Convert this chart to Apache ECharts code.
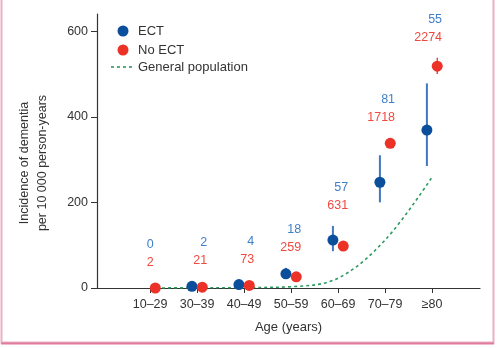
<!DOCTYPE html>
<html>
<head>
<meta charset="utf-8">
<script src="https://cdn.jsdelivr.net/npm/echarts@6/dist/echarts.min.js"></script>
<style>
html,body{margin:0;padding:0;background:#fff;}
#chart{width:497px;height:348px;}
</style>
</head>
<body>
<div id="chart"></div>
<script>
// ---- data ----
var categories = ['10–29', '30–39', '40–49', '50–59', '60–69', '70–79', '≥80'];
var ectCounts = [0, 2, 4, 18, 57, 81, 55];
var noEctCounts = [2, 21, 73, 259, 631, 1718, 2274];
var ectRate = [null, 4, 8, 33, 112, 247, 369];
var ectLow = [null, 1, 4, 21, 86, 200, 285];
var ectHigh = [null, 8, 12, 47, 145, 310, 478];
var noEctRate = [0, 2, 6, 26, 98, 338, 518];
var noEctLow = [0, 1, 4, 23, 93, 327, 500];
var noEctHigh = [1, 3, 8, 29, 103, 350, 538];
var generalPop = [0, 0.5, 1, 3, 23, 112, 259];
var yTicks = [0, 200, 400, 600];

// ---- style ----
var FONT = 'Liberation Sans';
var BLUE = '#0b4f9c', BLUE_BAR = '#3f78c0', BLUE_TXT = '#3f7fc8';
var RED = '#ec3226', RED_BAR = '#d8281e', RED_TXT = '#ef4a3f';
var GREEN = '#2f9a62';
var DX = 0.11;

var catIdx = categories.map(function (c, i) { return i; });

var ectPts = [], ectBars = [], redPts = [], redBars = [];
catIdx.forEach(function (i) {
  if (ectRate[i] != null) {
    ectPts.push([i - DX, ectRate[i]]);
    ectBars.push([i - DX, ectLow[i], ectHigh[i]]);
  }
  redPts.push([i + DX, noEctRate[i]]);
  redBars.push([i + DX, noEctLow[i], noEctHigh[i]]);
});
var genData = catIdx.map(function (i) { return [i, generalPop[i]]; });
var labelData = catIdx.map(function (i) {
  return [i, ectHigh[i] != null ? ectHigh[i] : 0, noEctHigh[i], ectRate[i] != null ? ectRate[i] : 0, noEctRate[i], ectCounts[i], noEctCounts[i]];
});

function errRender(color, width) {
  return function (params, api) {
    var p1 = api.coord([api.value(0), api.value(1)]);
    var p2 = api.coord([api.value(0), api.value(2)]);
    return { type: 'line', shape: { x1: p1[0], y1: p1[1], x2: p2[0], y2: p2[1] },
      style: { stroke: color, lineWidth: width } };
  };
}

var chart = echarts.init(document.getElementById('chart'), null, { renderer: 'canvas' });
chart.setOption({
  animation: false,
  backgroundColor: '#fff',
  textStyle: { fontFamily: FONT },
  grid: { left: 97, right: 17, top: 14, bottom: 60, containLabel: false },
  xAxis: {
    type: 'value', min: -1.13, max: 7.02,
    splitLine: { show: false },
    axisLine: { onZero: false, lineStyle: { color: '#333', width: 1.2 } },
    axisTick: { customValues: catIdx, length: 5, lineStyle: { color: '#333' } },
    axisLabel: { customValues: catIdx, margin: 10, fontSize: 12.5, color: '#333', fontFamily: FONT,
      formatter: function (v) { return categories[Math.round(v)]; } },
    name: 'Age (years)', nameLocation: 'middle', nameGap: 33,
    nameTextStyle: { fontSize: 13, color: '#333', fontFamily: FONT }
  },
  yAxis: {
    type: 'value', min: 0, max: 640,
    splitLine: { show: false },
    axisLine: { show: true, onZero: false, lineStyle: { color: '#333', width: 1.2 } },
    axisTick: { show: true, customValues: yTicks, length: 6, lineStyle: { color: '#333' } },
    axisLabel: { customValues: yTicks, margin: 9, fontSize: 12.5, color: '#333', fontFamily: FONT }
  },
  series: [
    { type: 'line', data: genData, smooth: 0.35, showSymbol: false, symbol: 'none', z: 1,
      lineStyle: { color: GREEN, width: 1.6, type: [3, 3] } },
    { type: 'custom', data: ectBars, renderItem: errRender(BLUE_BAR, 2), z: 2 },
    { type: 'custom', data: redBars, renderItem: errRender(RED_BAR, 1.2), z: 2 },
    { type: 'scatter', data: ectPts, symbolSize: 11, itemStyle: { color: BLUE, opacity: 1 }, z: 3 },
    { type: 'scatter', data: redPts, symbolSize: 11, itemStyle: { color: RED, opacity: 1 }, z: 4 },
    { type: 'custom', data: labelData, z: 5,
      renderItem: function (params, api) {
        var i = api.value(0);
        var yEh = api.coord([i, api.value(1)])[1];
        var yRh = api.coord([i, api.value(2)])[1];
        var yEd = api.coord([i, api.value(3)])[1] - 5.5;
        var yRd = api.coord([i, api.value(4)])[1] - 5.5;
        var top = Math.min(yEh, yRh, yEd, yRd);
        var cx = api.coord([i, 0])[0];
        var right = cx + (i === 0 ? 3.5 : 10);
        return { type: 'group', children: [
          { type: 'text', style: { text: String(api.value(6)), x: right, y: top - 20, align: 'right', verticalAlign: 'middle',
              fill: RED_TXT, fontSize: 12.5, fontFamily: FONT } },
          { type: 'text', style: { text: String(api.value(5)), x: right, y: top - 38, align: 'right', verticalAlign: 'middle',
              fill: BLUE_TXT, fontSize: 12.5, fontFamily: FONT } }
        ] };
      } }
  ],
  graphic: [
    { type: 'rect', shape: { x: 1.5, y: -2, width: 492, height: 344.5 }, style: { fill: 'none', stroke: '#eab0c4', lineWidth: 2 }, z: 100 },
    { type: 'line', shape: { x1: 1, y1: 343.5, x2: 494, y2: 343.5 }, style: { stroke: '#e07a9a', lineWidth: 2 }, z: 101 },
    { type: 'text', x: 34, y: 163, rotation: Math.PI / 2,
      style: { text: 'Incidence of dementia\nper 10 000 person-years', align: 'center', verticalAlign: 'middle',
        fontSize: 12.5, lineHeight: 18, fill: '#333', fontFamily: FONT } },
    { type: 'circle', shape: { cx: 123, cy: 31, r: 5.5 }, style: { fill: BLUE } },
    { type: 'text', x: 138, y: 31, style: { text: 'ECT', verticalAlign: 'middle', fontSize: 13, fill: '#333', fontFamily: FONT } },
    { type: 'circle', shape: { cx: 123, cy: 50, r: 5.5 }, style: { fill: RED } },
    { type: 'text', x: 138, y: 50, style: { text: 'No ECT', verticalAlign: 'middle', fontSize: 13, fill: '#333', fontFamily: FONT } },
    { type: 'line', shape: { x1: 111, y1: 67, x2: 135, y2: 67 }, style: { stroke: GREEN, lineWidth: 1.6, lineDash: [3, 3] } },
    { type: 'text', x: 138, y: 67, style: { text: 'General population', verticalAlign: 'middle', fontSize: 13, fill: '#333', fontFamily: FONT } }
  ]
});
</script>
</body>
</html>
